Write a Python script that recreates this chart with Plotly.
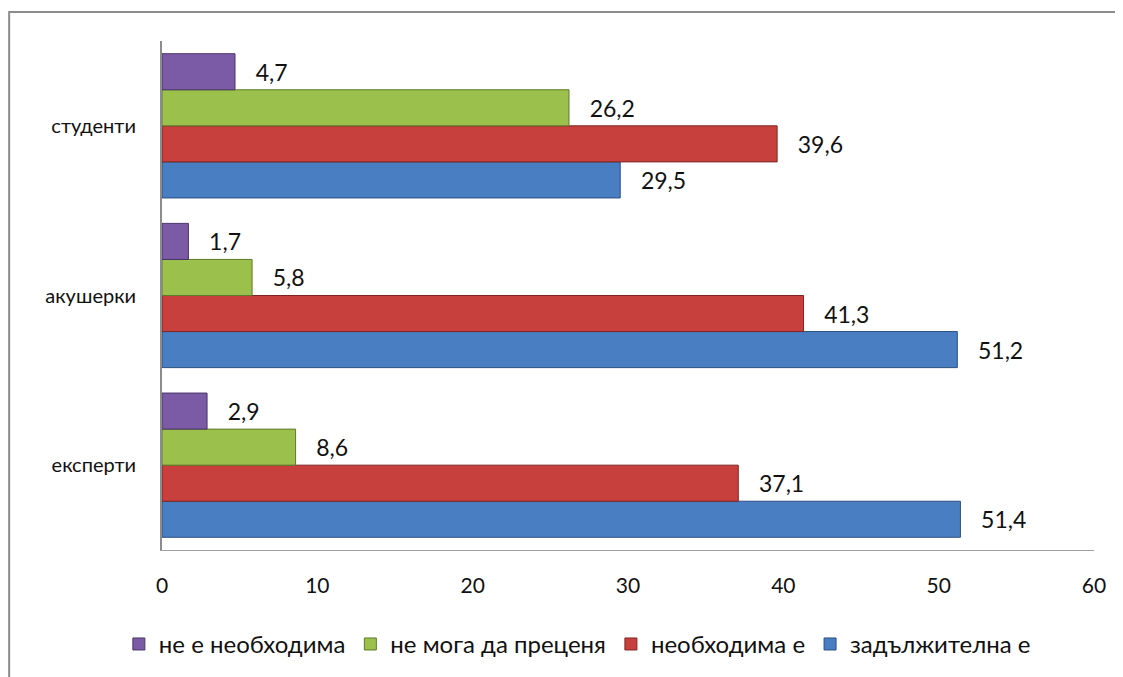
import plotly.graph_objects as go

groups = ["експерти", "акушерки", "студенти"]
series_names = ["задължителна е", "необходима е", "не мога да преценя", "не е необходима"]
zadalzhitelna = [51.4, 51.2, 29.5]
neobhodima = [37.1, 41.3, 39.6]
ne_moga = [8.6, 5.8, 26.2]
ne_e_neobhodima = [2.9, 1.7, 4.7]

colors = ["#4A7EC2", "#C8403D", "#9BC04C", "#7B5BA6"]
edges = ["#2B4F80", "#7E2523", "#5F7A2A", "#4B3469"]
values = [zadalzhitelna, neobhodima, ne_moga, ne_e_neobhodima]

font = "Lato, 'Open Sans', sans-serif"

fig = go.Figure()
for name, vals, c, e in zip(series_names, values, colors, edges):
    fig.add_trace(go.Bar(
        y=groups, x=vals, name=name, orientation="h",
        marker=dict(color=c, line=dict(color=e, width=1)),
        text=[f"{v:.1f}".replace(".", ",") for v in vals],
        texttemplate="   %{text}",
        textposition="outside", cliponaxis=False,
        textfont=dict(size=23, color="#111", family=font),
    ))

# outer chart frame
fig.add_shape(type="rect", xref="paper", yref="paper",
              x0=-0.164, x1=1.06, y0=-0.30, y1=1.057,
              line=dict(color="#8c8c8c", width=2), layer="below")

fig.update_layout(
    barmode="group", bargap=0.15, bargroupgap=0,
    width=1123, height=677,
    margin=dict(l=154, r=37, t=33, b=135),
    paper_bgcolor="white", plot_bgcolor="white",
    font=dict(family=font, size=20, color="#111"),
    showlegend=True,
    legend=dict(orientation="h", traceorder="reversed",
                xref="container", x=0.507, xanchor="center",
                yref="container", y=0.06, yanchor="middle",
                font=dict(size=24), itemwidth=30),
    xaxis=dict(range=[0, 60], dtick=10, showgrid=False, zeroline=False,
               showline=True, linecolor="#a0a0a0", linewidth=1,
               ticks="", ticklabelstandoff=17, tickfont=dict(size=21)),
    yaxis=dict(showgrid=False, showline=True, linecolor="#8c8c8c", linewidth=2,
               ticks="", ticklabelstandoff=20, tickfont=dict(size=20)),
)

fig.write_html("out.html")
